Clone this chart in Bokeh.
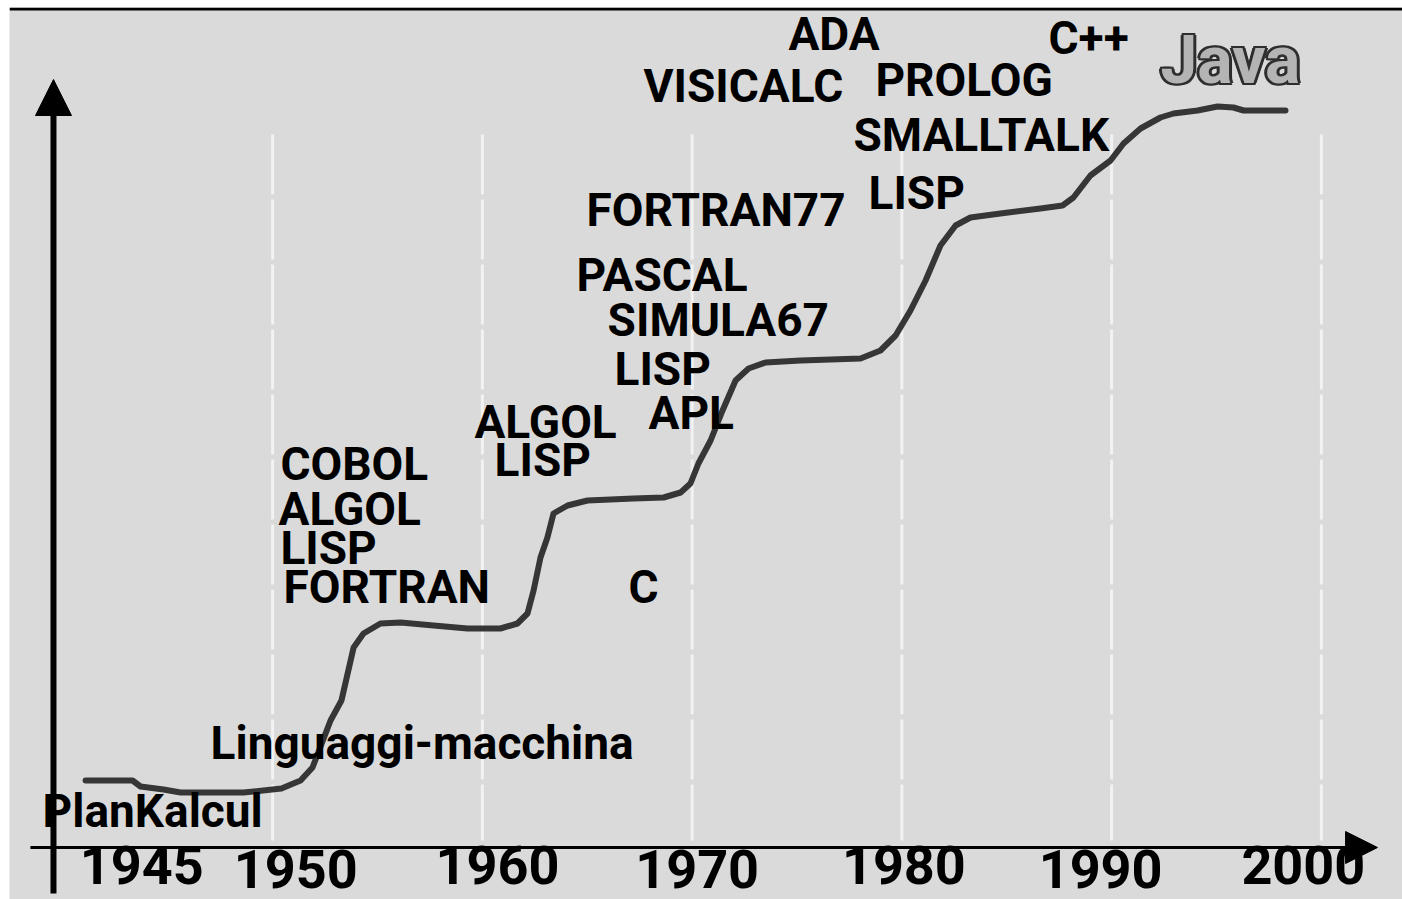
from bokeh.plotting import figure
from bokeh.models import Arrow, NormalHead, Range1d, Span
from bokeh.core.properties import value
from bokeh.embed import file_html
from bokeh.resources import INLINE

# ---------------- data ----------------
# growth curve: year vs. "level" (arbitrary units, 0 = horizontal axis)
curve_year = [1941.08, 1943.32, 1943.70, 1944.80, 1945.61, 1948.61, 1950.42, 1951.33,
              1951.90, 1952.76, 1953.28, 1953.86, 1954.33, 1955.14, 1956.10, 1957.67,
              1959.29, 1960.86, 1961.67, 1962.15, 1962.44, 1962.77, 1963.10, 1963.39,
              1964.06, 1965.01, 1967.20, 1968.64, 1969.45, 1969.92, 1970.30, 1970.88,
              1971.45, 1972.07, 1972.69, 1973.50, 1975.17, 1978.03, 1978.98, 1979.70,
              1980.41, 1981.13, 1981.84, 1982.56, 1983.27, 1984.70, 1986.61, 1987.66,
              1988.18, 1988.99, 1989.95, 1990.57, 1991.38, 1992.33, 1992.95, 1994.10,
              1995.05, 1995.81, 1996.29, 1998.29]
curve_level = [6.7, 6.7, 6.1, 5.8, 5.5, 5.5, 5.9, 6.7,
               8.0, 12.7, 14.7, 20.0, 21.4, 22.4, 22.5, 22.2,
               21.9, 21.9, 22.4, 23.4, 25.7, 29.0, 31.0, 33.4,
               34.2, 34.7, 34.9, 35.0, 35.5, 36.4, 38.4, 40.7,
               43.7, 46.7, 47.9, 48.5, 48.7, 48.9, 49.7, 51.2,
               53.7, 56.7, 60.2, 62.2, 63.0, 63.4, 63.9, 64.2,
               65.0, 67.2, 68.7, 70.4, 71.9, 73.0, 73.4, 73.7,
               74.1, 74.0, 73.7, 73.7]

# language labels
label_text = ["PlanKalcul", "Linguaggi-macchina", "COBOL", "ALGOL", "LISP", "FORTRAN",
              "ALGOL", "LISP", "C", "APL", "LISP", "SIMULA67", "PASCAL", "FORTRAN77",
              "VISICALC", "ADA", "PROLOG", "SMALLTALK", "LISP", "C++"]
label_year = [1939.03, 1947.04, 1950.37, 1950.28, 1950.37, 1950.52,
              1959.62, 1960.58, 1966.97, 1967.92, 1966.30, 1965.97, 1964.49, 1964.96,
              1967.68, 1974.59, 1978.74, 1977.69, 1978.41, 1986.99]
label_level = [1.9, 8.7, 36.6, 32.1, 28.2, 24.3,
               40.8, 37.0, 24.3, 41.7, 46.1, 51.0, 55.5, 62.0,
               74.4, 79.6, 75.0, 69.5, 63.7, 79.2]

java_text = ["Java"]
java_year = [1992.33]
java_level = [76.9]

# horizontal axis
year_ticks = [1945, 1950, 1960, 1970, 1980, 1990, 2000]
year_tick_labels = ["1945", "1950", "1960", "1970", "1980", "1990", "2000"]
grid_years = [1950, 1960, 1970, 1980, 1990, 2000]

# ---------------- styles ----------------
FONT = "Roboto"
LABEL_SIZE, YEAR_SIZE, JAVA_SIZE = "46px", "54px", "66px"
BASE_SHIFT = -18                                   # renderer baseline compensation (px)
YEAR_NUDGE_PX = [-26, 23, 15, 5, 2, -11, -18]      # hand-lettered label placement (px)

# ---------------- figure ----------------
X0, X1 = 1937.453, 2003.869
Y0, Y1 = -5.2, 84.0
p = figure(width=1402, height=899, output_backend="svg", toolbar_location=None,
           x_range=Range1d(X0, X1), y_range=Range1d(Y0, Y1),
           x_axis_location=None, y_axis_location=None)
p.min_border = 0
p.min_border_left = 9
p.min_border_top = 7
p.border_fill_color = "white"
p.background_fill_color = "#dadada"
p.outline_line_color = None
p.xgrid.visible = False
p.ygrid.visible = False

# black rule along the top edge
p.add_layout(Span(location=Y1 - 0.15, dimension="width", line_color="black", line_width=3))

# white vertical gridlines
p.segment(x0=grid_years, y0=[71.3] * len(grid_years), x1=grid_years, y1=[0.7] * len(grid_years),
          line_color="#f2f2f2", line_width=3, line_dash="60 5")

# axes with arrows
axis_year = 1939.55
p.add_layout(Arrow(end=NormalHead(size=36, fill_color="black", line_color="black"),
                   x_start=axis_year, y_start=-4.6, x_end=axis_year, y_end=76.8,
                   line_width=6, line_color="black"))
p.add_layout(Arrow(end=NormalHead(size=32, fill_color="black", line_color="black"),
                   x_start=1938.45, y_start=0, x_end=2002.68, y_end=0,
                   line_width=3, line_color="black"))

# curve
p.line(curve_year, curve_level, line_color="#363636", line_width=6,
       line_join="round", line_cap="round")

# language labels
p.text(x=label_year, y=label_level, text=label_text, text_font=value(FONT),
       text_font_size=LABEL_SIZE, text_font_style="bold", text_color="black",
       text_align="left", text_baseline="alphabetic", y_offset=BASE_SHIFT)

# Java logo-like text: dark outline then grey fill
for dx, dy in [(-3, 0), (3, 0), (0, -2), (0, 2), (-2, -2), (2, 2), (-2, 2), (2, -2)]:
    p.text(x=java_year, y=java_level, text=java_text, text_font=value(FONT),
           text_font_size=JAVA_SIZE, text_font_style="bold", text_color="#2e2e2e",
           text_align="left", text_baseline="alphabetic",
           x_offset=dx, y_offset=BASE_SHIFT + dy)
p.text(x=java_year, y=java_level, text=java_text, text_font=value(FONT),
       text_font_size=JAVA_SIZE, text_font_style="bold", text_color="#b4b4b4",
       text_align="left", text_baseline="alphabetic", y_offset=BASE_SHIFT)

# year labels (slightly staggered, as hand-placed in the original)
year_level = [-3.5 if i % 2 == 0 else -3.9 for i in range(len(year_ticks))]
p.text(x=year_ticks, y=year_level, text=year_tick_labels, text_font=value(FONT),
       text_font_size=YEAR_SIZE, text_font_style="bold", text_color="black",
       text_align="center", text_baseline="alphabetic",
       x_offset=YEAR_NUDGE_PX, y_offset=BASE_SHIFT)

open("out.html", "w").write(file_html(p, INLINE))
